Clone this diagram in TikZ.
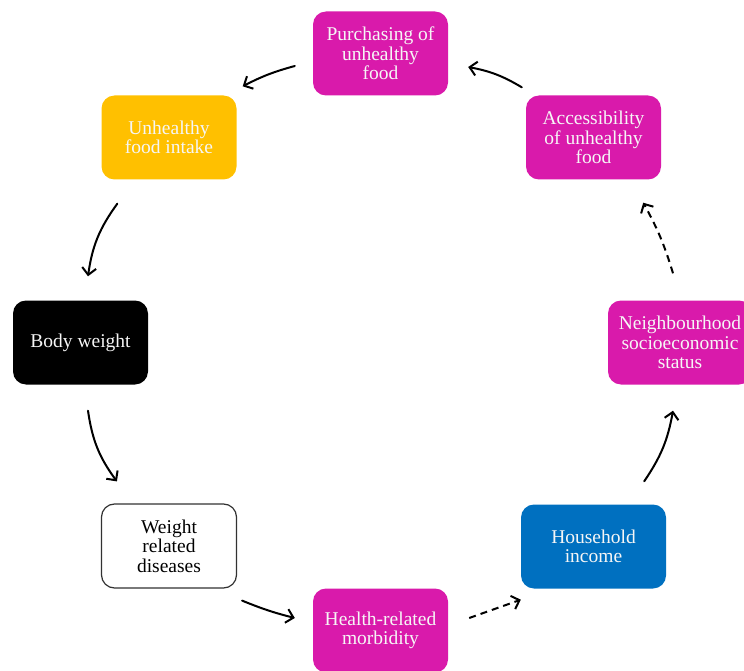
\documentclass[tikz,border=0pt]{standalone}
\usepackage{fontspec}
\setmainfont{Liberation Serif}
\usetikzlibrary{arrows.meta}
\definecolor{mag}{RGB}{217,26,171}
\definecolor{amber}{RGB}{255,192,0}
\definecolor{incomeblue}{RGB}{0,112,192}
\definecolor{edgegray}{RGB}{50,50,50}
\definecolor{offwhite}{RGB}{246,246,246}
\begin{document}
\begin{tikzpicture}[x=1pt,y=1pt,
  box/.style={rounded corners=13pt, minimum width=135pt, minimum height=84pt,
    align=center, inner sep=0pt, text=offwhite,
    font=\fontsize{19.5}{19.5}\selectfont},
  arr/.style={line width=2pt, line cap=round,
    -{Straight Barb[length=7pt,width=14pt,line width=2pt]}},
  dasharr/.style={arr, line cap=butt, dash pattern=on 7pt off 5pt}]
\useasboundingbox (0,0) rectangle (744,-671);

% boxes of the cycle
\node[box,fill=mag] (pur) at (380.5,-53.5) {Purchasing of\\unhealthy\\food};
\node[box,fill=amber] (unh) at (169,-137.5) {Unhealthy\\food intake};
\node[box,fill=mag] (acc) at (593.5,-137.5) {Accessibility\\of unhealthy\\food};
\node[box,fill=mag,minimum width=144pt] (nei) at (680,-342.5) {Neighbourhood\\socioeconomic\\status};
\node[box,fill=black] (bw) at (80.5,-342.5) {Body weight};
\node[box,fill=white,draw=edgegray,line width=1.2pt,text=black] (wrd) at (169,-546) {Weight\\related\\diseases};
\node[box,fill=mag] (hrm) at (380.5,-630.5) {Health-related\\morbidity};
\node[box,fill=incomeblue,minimum width=145pt] (hh) at (593.5,-546.5) {Household\\income};

% connectors
\draw[arr] ([shift={(-18,-12.5)}]pur.west) to[bend right=6] ([shift={(6,9)}]unh.north east);
\draw[arr] ([shift={(-4,8)}]acc.north west) to[bend right=10] ([shift={(20,-13.5)}]pur.east);
\draw[arr] ([shift={(16,-24)}]unh.south west) to[bend right=14] ([shift={(7.5,24)}]bw.north);
\draw[arr] ([shift={(7.5,-26)}]bw.south) to[bend right=14] ([shift={(16,22)}]wrd.north west);
\draw[arr] ([shift={(5,-12)}]wrd.south east) to[bend right=4] ([shift={(-18,12.5)}]hrm.west);
\draw[dasharr] ([shift={(21,12.5)}]hrm.east) -- ([shift={(0,-11)}]hh.south west);
\draw[arr] ([shift={(-22,23)}]hh.north east) to[bend right=12] ([shift={(-7,-26)}]nei.south);
\draw[dasharr] ([shift={(-7,27)}]nei.north) to[bend right=6] ([shift={(-18,-23)}]acc.south east);
\end{tikzpicture}
\end{document}
